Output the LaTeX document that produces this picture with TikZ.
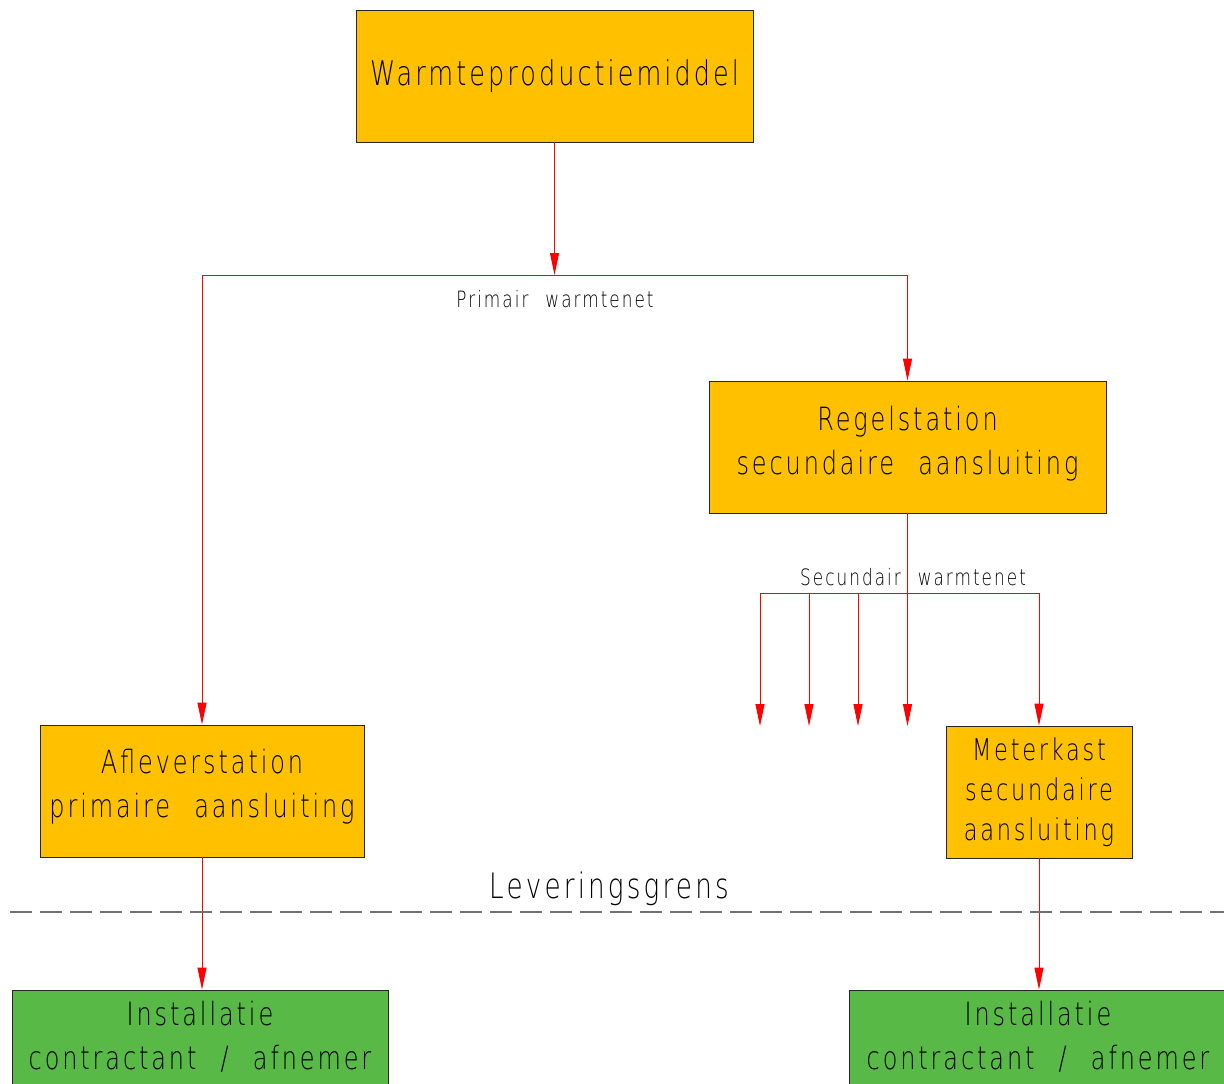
\documentclass[tikz,border=0pt]{standalone}
\usepackage{fontspec}
\setmainfont{DejaVu Sans ExtraLight}[FakeStretch=0.75,LetterSpace=9,WordSpace=2.3]
\usetikzlibrary{arrows.meta}
\definecolor{boxorange}{RGB}{255,192,0}
\definecolor{boxgreen}{RGB}{88,185,71}
\definecolor{pipe}{RGB}{255,0,0}
\definecolor{grens}{RGB}{112,112,112}
\tikzset{
  obox/.style={draw=black!85,fill=boxorange,line width=0.9pt,align=center,inner sep=0pt},
  gbox/.style={draw=black!85,fill=boxgreen,line width=0.9pt,inner sep=0pt},
  boxtext/.style={align=center,inner sep=0pt,font=\fontsize{32}{44}\selectfont},
  lbl/.style={inner sep=0pt,anchor=base,font=\fontsize{22.5}{28}\selectfont},
  pipeline/.style={draw=pipe,line width=0.9pt},
  flow/.style={pipeline,-{Triangle[length=22pt,width=9pt]}},
}
\begin{document}
\begin{tikzpicture}[x=1pt,y=-1pt]
\useasboundingbox[fill=white] (0,0) rectangle (1224,1084);
% boxes
\node[obox,minimum width=397,minimum height=132,font=\fontsize{34}{40}\selectfont] (top) at (554.5,76) {Warmteproductiemiddel};
\node[obox,minimum width=397,minimum height=132,font=\fontsize{32}{44}\selectfont] (reg) at (907.5,447) {Regelstation\\secundaire aansluiting\rule[-14pt]{0pt}{14pt}};
\node[obox,minimum width=324,minimum height=132,font=\fontsize{32}{44}\selectfont] (afl) at (202,791) {Afleverstation\\primaire aansluiting\rule[-16pt]{0pt}{16pt}};
\node[obox,minimum width=186,minimum height=132,font=\fontsize{30}{40}\selectfont] (met) at (1039,792) {Meterkast\\secundaire\\aansluiting};
\node[gbox,minimum width=376,minimum height=160] (inst1) at (200,1070) {};
\node[gbox,minimum width=378,minimum height=160] (inst2) at (1038,1070) {};
\node[boxtext] (inst1t) at (200,1037) {Installatie\\contractant / afnemer};
\node[boxtext] (inst2t) at (1038,1037) {Installatie\\contractant / afnemer};
% labels
\node[lbl] (prim) at (555,307) {Primair warmtenet};
\node[lbl] (sec) at (913,585) {Secundair warmtenet};
\node[lbl,font=\fontsize{35}{36}\selectfont] (lev) at (609,898) {Leveringsgrens};
% junctions
\coordinate (j1) at (554.5,275);
\coordinate (jl) at (202,275);
\coordinate (jr) at (907.5,275);
\coordinate (s0) at (760,593);
\coordinate (s1) at (809,593);
\coordinate (s2) at (858,593);
\coordinate (s4) at (1039,593);
\coordinate (e0) at (760,726);
\coordinate (e1) at (809,726);
\coordinate (e2) at (858,726);
\coordinate (e3) at (907.5,726);
% primary network
\draw[flow] (top.south) -- (j1);
\draw[pipeline] (jl) -- (jr);
\draw[flow] (jl) -- (afl.north);
\draw[flow] (jr) -- (reg.north);
% secondary network
\draw[flow] (reg.south) -- (e3);
\draw[pipeline] (s0) -- (s4);
\draw[flow] (s0) -- (e0);
\draw[flow] (s1) -- (e1);
\draw[flow] (s2) -- (e2);
\draw[flow] (s4) -- (met.north);
% to installations
\draw[flow] (afl.south) -- (afl.south |- inst1.north);
\draw[flow] (met.south) -- (met.south |- inst2.north);
% delivery boundary
\coordinate (g0) at (10,912);
\coordinate (g1) at (1230,912);
\draw[grens,line width=1.8pt,dash pattern=on 22pt off 8pt] (g0) -- (g1);
\end{tikzpicture}
\end{document}
